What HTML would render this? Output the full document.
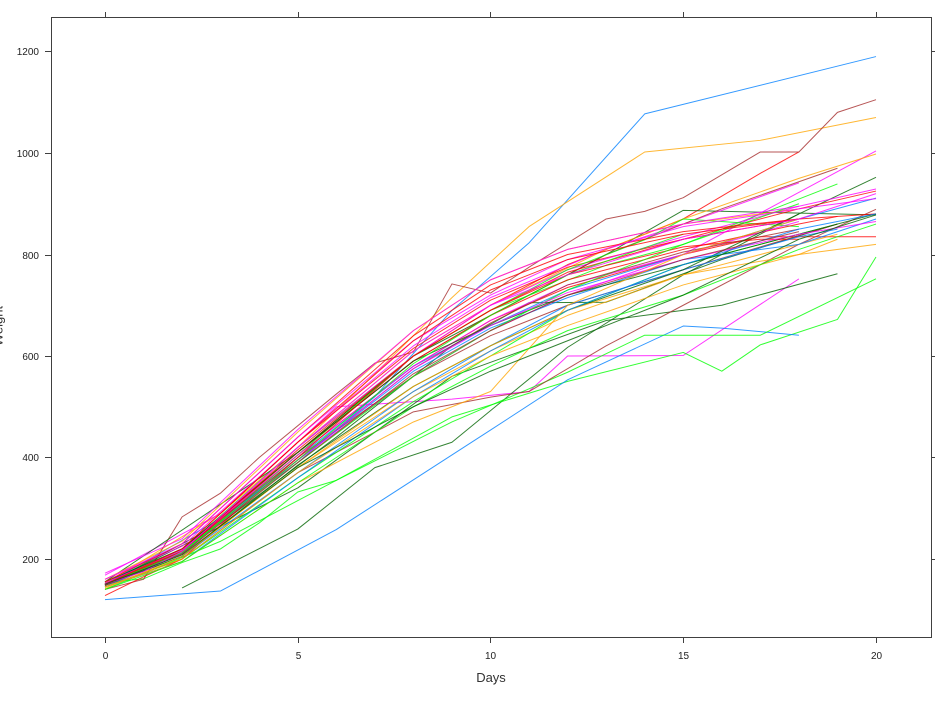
<!DOCTYPE html>
<html><head><meta charset="utf-8"><style>
html,body{margin:0;padding:0;background:#fff;}
svg{display:block;}
polyline{fill:none;stroke-width:1;vector-effect:non-scaling-stroke;stroke-opacity:0.8;stroke-linejoin:round;}
.b{stroke:#0080ff}.m{stroke:#ff00ff}.g{stroke:#006400}.r{stroke:#ff0000}.o{stroke:#ffa500}.l{stroke:#00ff00}.n{stroke:#a52a2a}
text{font-family:"Liberation Sans",Arial,sans-serif;fill:#222;}
</style></head><body>
<svg width="935" height="701" viewBox="0 0 935 701" xmlns="http://www.w3.org/2000/svg">
<rect x="0" y="0" width="935" height="701" fill="#fff"/>
<g transform="translate(105,660.5) scale(38.55,-0.5075)">
<polyline class="b" points="0,150 3,280 5,390 7,520 9,690 11,823 14,1077 20,1190"/>
<polyline class="m" points="0,168 3,290 6,500 9,515 11,530 12,600 15,601 18,752"/>
<polyline class="g" points="2,143 5,259 7,380 9,430 12,617 15,760 18,880 20,952"/>
<polyline class="r" points="0,150 2,215 5,410 8,600 10,700 12,780 15,870 17,960 18,1002"/>
<polyline class="o" points="0,152 3,290 5,420 7,565 9,715 11,855 14,1002 17,1025 20,1070"/>
<polyline class="l" points="0,153 1,161 2,193 3,220 4,271 5,332 6,355 9,480 12,550 15,607 16,570 17,622 19,672 20,795"/>
<polyline class="n" points="0,140 1,160 2,283 3,330 4,400 6,525 7,586 8,608 9,742 10,724 11,775 13,870 14,885 15,912 17,1002 18,1002 19,1080 20,1105"/>
<polyline class="b" points="0,120 3,137 6,258 10,454 12,553 15,659 16,655 18,641"/>
<polyline class="l" points="0,140 3,235 6,355 9,470 12,568 14,641 17,641 20,752"/>
<polyline class="g" points="0,150 5,340 9,560 13,670 16,700 19,762"/>
<polyline class="g" points="0,155 5,410 8,600 11,720 13,800 15,887 20,878"/>
<polyline class="g" points="0,150 3,270 6,440 9,620 11,705 13,706 16,790 19,860"/>
<polyline class="r" points="0,148 2,215 5,405 8,580 10,670 12,735 15,800 17,835 20,835"/>
<polyline class="m" points="0,150 2,210 5,395 8,560 10,650 12,720 15,800 20,1004"/>
<polyline class="m" points="0,160 2,225 5,430 8,620 10,715 13,810 15,860 18,941"/>
<polyline class="o" points="0,150 2,215 5,420 8,610 10,700 13,810 15,870 18,950 20,998"/>
<polyline class="l" points="0,150 2,218 5,420 8,600 10,690 13,779 15,820 19,939"/>
<polyline class="r" points="0,150 2,220 5,430 8,615 10,710 12,775 15,830 18,890 20,925"/>
<polyline class="m" points="0,155 2,215 5,420 8,600 10,700 12,770 15,835 18,895 20,929"/>
<polyline class="b" points="0,145 2,210 5,400 8,580 10,660 12,730 15,800 18,870 20,911"/>
<polyline class="n" points="0,145 2,200 5,370 8,490 10,519 11,530 13,620 15,700 18,820 20,889"/>
<polyline class="n" points="0,150 2,220 5,410 8,590 10,680 13,800 16,890 19,970"/>
<polyline class="l" points="0,148 2,210 5,405 8,600 10,690 12,770 14,829 15,870 18,855"/>
<polyline class="r" points="0,152 2,215 5,410 8,590 10,680 12,750 15,810 18,860 19,875"/>
<polyline class="o" points="0,148 2,205 5,380 8,530 10,610 12,680 15,760 19,840"/>
<polyline class="l" points="0,145 2,200 5,360 8,510 10,600 12,690 15,780 19,860"/>
<polyline class="n" points="0,150 2,215 5,400 8,560 10,640 12,700 15,770 19,860"/>
<polyline class="b" points="0,150 2,212 5,395 8,570 10,655 12,715 15,790 18,820 20,870"/>
<polyline class="m" points="0,152 2,218 5,405 8,580 10,670 12,740 15,800 18,865"/>
<polyline class="g" points="0,155 2,220 5,410 8,590 10,660 12,720 15,780 18,840 20,880"/>
<polyline class="r" points="0,128 1,165 2,200 5,400 8,600 10,690 12,760 15,815 17,830 18,830"/>
<polyline class="o" points="0,160 2,235 5,450 8,650 10,750 12,810 15,860 18,890"/>
<polyline class="l" points="0,150 2,215 5,390 8,560 10,650 12,730 15,820 18,900"/>
<polyline class="n" points="0,150 2,210 5,395 8,575 10,665 12,740 15,805 18,850"/>
<polyline class="b" points="0,148 2,205 5,370 8,530 10,620 12,700 15,770 18,835 19,850"/>
<polyline class="m" points="0,150 2,210 5,395 8,575 10,660 12,725 15,790 18,840 20,865"/>
<polyline class="g" points="0,148 2,205 5,385 8,540 10,620 12,690 15,770 18,880"/>
<polyline class="r" points="0,150 2,215 5,415 8,600 10,690 12,765 15,830 18,870 20,880"/>
<polyline class="o" points="0,142 2,205 5,380 8,540 10,620 12,690 15,760 18,800 20,820"/>
<polyline class="l" points="0,150 2,212 5,395 8,585 10,680 12,760 15,840"/>
<polyline class="b" points="0,145 2,195 5,360 8,520 10,610 12,690 15,780 18,850 20,880"/>
<polyline class="r" points="0,155 2,230 5,440 8,640 10,740 12,800 15,845 18,870"/>
<polyline class="m" points="0,160 2,230 5,440 8,630 10,720 12,790 15,855 18,890 20,910"/>
<polyline class="n" points="0,148 2,210 5,390 8,565 10,650 12,720 15,790 18,845"/>
<polyline class="o" points="0,145 2,200 5,370 8,520 10,600 12,660 15,740 18,800 19,830"/>
<polyline class="r" points="0,150 2,220 5,430 8,630 10,730 12,790 15,840 18,870"/>
<polyline class="o" points="0,145 2,195 5,350 8,470 10,530 12,700 15,800 18,870"/>
<polyline class="m" points="0,150 1,175 2,215 5,420 8,610 10,700 12,760 15,830 18,870 20,920"/>
<polyline class="l" points="0,140 2,195 5,350 8,500 10,580 12,650 15,720 18,810 20,860"/>
<polyline class="g" points="0,150 2,208 5,380 8,500 10,570 12,630 15,720 18,830 20,878"/>
<polyline class="m" points="0,172 2,240 5,455 8,650 10,750 12,810 15,860 18,895"/>
</g>
<!-- frame -->
<rect x="51.5" y="17.5" width="880" height="620" fill="none" stroke="#404040" stroke-width="1"/>
<g stroke="#404040" stroke-width="1">
<line x1="105.5" y1="637.5" x2="105.5" y2="643"/>
<line x1="298.5" y1="637.5" x2="298.5" y2="643"/>
<line x1="490.5" y1="637.5" x2="490.5" y2="643"/>
<line x1="683.5" y1="637.5" x2="683.5" y2="643"/>
<line x1="876.5" y1="637.5" x2="876.5" y2="643"/>
<line x1="105.5" y1="12" x2="105.5" y2="17.5"/>
<line x1="298.5" y1="12" x2="298.5" y2="17.5"/>
<line x1="490.5" y1="12" x2="490.5" y2="17.5"/>
<line x1="683.5" y1="12" x2="683.5" y2="17.5"/>
<line x1="876.5" y1="12" x2="876.5" y2="17.5"/>
<line x1="45" y1="51.5" x2="51.5" y2="51.5"/>
<line x1="45" y1="153.5" x2="51.5" y2="153.5"/>
<line x1="45" y1="255.5" x2="51.5" y2="255.5"/>
<line x1="45" y1="356.5" x2="51.5" y2="356.5"/>
<line x1="45" y1="457.5" x2="51.5" y2="457.5"/>
<line x1="45" y1="559.5" x2="51.5" y2="559.5"/>
<line x1="931.5" y1="51.5" x2="937" y2="51.5"/>
<line x1="931.5" y1="153.5" x2="937" y2="153.5"/>
<line x1="931.5" y1="255.5" x2="937" y2="255.5"/>
<line x1="931.5" y1="356.5" x2="937" y2="356.5"/>
<line x1="931.5" y1="457.5" x2="937" y2="457.5"/>
<line x1="931.5" y1="559.5" x2="937" y2="559.5"/>
</g>
<g font-size="10" text-anchor="end">
<text x="39" y="55">1200</text>
<text x="39" y="157">1000</text>
<text x="39" y="259">800</text>
<text x="39" y="360">600</text>
<text x="39" y="461">400</text>
<text x="39" y="563">200</text>
</g>
<g font-size="10" text-anchor="middle">
<text x="105.5" y="659">0</text>
<text x="298.5" y="659">5</text>
<text x="490.5" y="659">10</text>
<text x="683.5" y="659">15</text>
<text x="876.5" y="659">20</text>
</g>
<text x="491" y="682" font-size="13" text-anchor="middle" style="fill:#333">Days</text>
<text transform="translate(2.5,326) rotate(-90)" font-size="13" text-anchor="middle" style="fill:#333">Weight</text>
</svg>
</body></html>
